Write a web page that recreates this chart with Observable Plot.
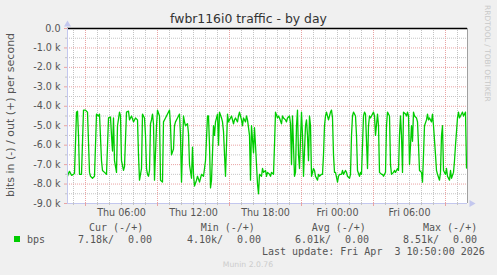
<!DOCTYPE html>
<html><head><meta charset="utf-8">
<script src="https://cdn.jsdelivr.net/npm/d3@7"></script>
<script src="https://cdn.jsdelivr.net/npm/@observablehq/plot@0.6"></script>
<style>
html,body{margin:0;padding:0;background:#f0f0f0;}
#chart{width:497px;height:275px;overflow:hidden}
svg{display:block}
</style></head><body><div id="chart"></div>
<script>
const title = "fwbr116i0 traffic - by day";
const yLabel = "bits in (-) / out (+) per second";
const watermark = "RRDTOOL / TOBI OETIKER";
const seriesName = "bps";
// 5-minute sample index (0 = Thu 01:30 UTC) and inbound bits/s in k (drawn negative)
const sampleIdx = [0,1,2,4,6,7,9,10,11,12,14,16,18,20,22,23,25,27,29,31,32,34,35,37,39,41,43,44,45,46,47,49,50,52,53,54,56,57,59,61,62,64,66,68,70,71,72,74,75,77,78,79,80,81,82,83,84,85,86,87,89,90,92,93,95,96,98,99,100,102,103,104,106,107,108,110,112,113,114,116,117,118,120,121,122,124,125,126,127,129,130,132,133,134,136,137,138,140,141,142,143,144,146,147,148,150,151,152,154,155,156,158,159,160,161,162,163,164,166,167,168,170,171,172,174,175,176,178,179,180,182,183,184,186,187,188,190,191,192,194,195,196,198,199,200,202,203,204,206,207,208,210,211,212,214,215,216,218,219,220,222,223,224,225,227,228,229,230,231,232,234,235,236,238,239,240,241,242,243,244,246,247,248,250,251,252,254,255,256,257,258,259,261,262,263,264,265,266,267,268,270,271,272,274,275,276,278,279,280,282,283,284,285,286,288,289,290,292,293,294,296,297,298,300,301,302,303,304,306,307,308,310,311,312,314,315,316,318,319,320,322,323,324,326,327,328,330,331,332,333,334,335,336,338,339,340,341,342,344,345,346,347,349,350,351,352,354,355,356,357,359,360,361,362,364,365,366,368,369,370,372,373,374,375,376,378,379,380,382,383,384,386,387,388,390,391,392,394,395,396,398,399];
const bpsInK = [7.6,7.45,7.35,7.55,7.5,7.45,4.3,4.25,5.5,7.5,7.5,4.2,4.2,4.3,7.4,7.6,7.7,7.6,4.4,4.5,4.4,6.8,7.3,7.4,7.5,4.6,4.55,5.5,6.3,4.6,6.8,7.4,5.0,4.3,4.5,6.8,7.3,7.1,4.3,4.25,4.7,4.5,4.8,4.6,4.7,6.5,7.8,7.2,4.4,4.6,5.5,7.2,7.5,7.6,7.3,4.9,4.7,4.4,4.9,7.8,5.0,4.2,4.5,7.8,7.9,4.8,4.6,4.5,4.4,4.2,5.0,6.5,6.2,5.0,4.8,4.6,4.4,5.5,7.9,4.5,4.8,5.0,4.9,5.4,7.0,7.7,6.1,7.5,8.1,7.8,7.6,7.9,7.7,7.5,7.6,7.2,6.8,4.5,4.5,6.0,8.2,7.8,5.0,5.5,4.8,4.4,6.0,4.3,4.6,4.8,5.3,7.6,6.0,4.4,4.8,4.7,4.6,4.5,4.9,4.7,4.6,4.8,4.5,4.3,4.7,5.0,4.6,4.8,4.5,4.7,5.5,7.8,5.0,6.4,5.1,6.0,8.0,8.5,7.5,7.6,7.2,7.4,7.3,7.6,7.4,7.5,7.6,7.4,7.5,6.0,4.3,4.6,4.5,4.6,4.9,4.5,4.6,4.7,4.8,4.6,4.5,4.9,7.0,4.5,7.6,7.4,5.0,4.2,6.5,7.2,4.3,5.5,7.6,5.0,4.7,5.5,6.8,4.5,5.0,7.6,7.2,7.3,7.6,7.8,7.5,7.6,7.5,7.5,6.5,5.0,4.5,4.3,4.7,4.5,4.3,4.2,4.6,6.5,7.4,7.4,7.9,7.6,7.5,7.5,7.3,7.5,7.3,7.4,7.6,7.7,7.5,5.5,4.5,4.3,4.5,5.5,7.3,7.6,7.4,7.5,4.5,4.3,4.4,7.2,5.0,4.5,4.6,4.5,4.3,4.5,5.5,4.4,5.0,7.4,7.5,7.5,7.6,7.4,5.0,4.3,4.5,7.0,7.5,7.4,7.3,7.4,7.2,7.3,5.5,4.5,5.5,7.4,4.3,4.4,4.5,4.3,4.5,7.0,5.0,5.8,4.3,4.5,4.6,4.8,6.0,7.3,7.4,7.9,6.5,5.0,4.7,4.4,4.7,4.6,4.8,4.4,5.0,6.5,7.3,7.5,7.8,7.4,5.5,5.0,7.3,7.5,7.2,7.6,7.8,7.3,7.7,7.4,6.8,6.0,4.6,4.3,4.6,4.4,4.3,4.5,4.3,7.18];
const yTickValues = [0,-1000,-2000,-3000,-4000,-5000,-6000,-7000,-8000,-9000];
const xLabelTimes = ["2026-04-02T06:00Z","2026-04-02T12:00Z","2026-04-02T18:00Z","2026-04-03T00:00Z","2026-04-03T06:00Z"];
const legendHeaders = ["Cur (-/+)","Min (-/+)","Avg (-/+)","Max (-/+)"];
const legendIn = ["7.18k/","4.10k/","6.01k/","8.51k/"];
const legendOut = ["0.00","0.00","0.00","0.00"];
const lastUpdate = "Last update: Fri Apr  3 10:50:00 2026";
const version = "Munin 2.0.76";

const STEP = 5 * 60 * 1000;
const start = new Date(Date.UTC(2026, 3, 2, 1, 30));
const end = new Date(+start + 400 * STEP);
const data = sampleIdx.map((i, k) => ({t: new Date(+start + i * STEP), v: -bpsInK[k] * 1000}));

const hours = d3.utcHour.range(start, end);
const hourMajor = hours.filter(d => d.getUTCHours() % 6 === 3);
const hourMinor = hours.filter(d => d.getUTCHours() % 6 !== 3);
const yMajor = d3.range(-1000, -9000, -1000);
const yMinor = d3.range(-500, -9000, -1000);
const xLabels = xLabelTimes.map(s => new Date(s));

const RED = "#e9a3a3", GREY = "#c4c4c4", AXIS = "#c3c7ee";
const fmtY = v => v === 0 ? "0.0" : (v / 1000).toFixed(1) + " k";

const plot = Plot.plot({
  width: 497, height: 275,
  marginLeft: 67, marginRight: 30, marginTop: 28, marginBottom: 72,
  style: {background: "transparent", fontFamily: "DejaVu Sans", fontSize: "9.6px", color: "#555", overflow: "visible"},
  x: {type: "utc", domain: [start, end], label: null},
  y: {domain: [-9000, 0], label: null},
  marks: [
    Plot.frame({fill: "white", stroke: null}),
    Plot.ruleY(yMinor, {stroke: GREY, strokeDasharray: "1,1"}),
    Plot.ruleX(hourMinor, {stroke: GREY, strokeDasharray: "1,1"}),
    Plot.ruleY(yMajor, {stroke: RED, strokeDasharray: "1,1"}),
    Plot.ruleX(hourMajor, {stroke: RED, strokeDasharray: "1,1"}),
    Plot.line(data, {x: "t", y: "v", stroke: "#00cc00", strokeWidth: 1.3}),
    Plot.ruleY([0], {stroke: "#000", strokeWidth: 1.4}),
    Plot.ruleX([end], {stroke: "#a0a0a0"}),
    Plot.ruleY([-9000], {stroke: AXIS, x1: start, x2: end}),
    Plot.ruleX([start], {stroke: AXIS, y1: -9000, y2: 0}),
    Plot.dot([0], {x: () => start, y: () => 0, dy: -4, symbol: "triangle", r: 2.6, fill: AXIS, stroke: null}),
    Plot.dot([0], {x: () => end, y: () => -9000, dx: 4, symbol: "triangle", rotate: 90, r: 2.6, fill: AXIS, stroke: null}),
    Plot.axisY({ticks: yMinor, tickSize: 2, tickFormat: () => "", stroke: GREY, label: null}),
    Plot.axisY({ticks: yTickValues, tickSize: 3, tickPadding: 4, tickFormat: fmtY, stroke: RED, fill: "#555", label: null}),
    Plot.axisX({ticks: hourMinor, tickSize: 2, tickFormat: () => "", stroke: GREY, label: null}),
    Plot.axisX({ticks: hourMajor, tickSize: 3, tickFormat: () => "", stroke: RED, label: null}),
    Plot.axisX({ticks: xLabels, tickSize: 0, tickPadding: 6, tickFormat: d3.utcFormat("%a %H:%M"), fill: "#555", label: null})
  ]
});
document.getElementById("chart").appendChild(plot);

const svg = d3.select(plot);
svg.append("text").attr("x", 248.5).attr("y", 22.5).attr("text-anchor", "middle")
  .attr("font-family", "DejaVu Sans").attr("font-size", 12.4).attr("fill", "#333").text(title);
svg.append("text").attr("transform", "translate(14,115) rotate(-90)").attr("text-anchor", "middle")
  .attr("font-family", "DejaVu Sans").attr("font-size", 11).attr("fill", "#555").text(yLabel);
svg.append("text").attr("transform", "translate(485,5) rotate(90)").attr("text-anchor", "start")
  .attr("font-family", "DejaVu Sans").attr("font-size", 7.5).attr("fill", "#c8c8c8").text(watermark);

const mono = (x, y, s, fill = "#555") => svg.append("text").attr("x", x).attr("y", y)
  .attr("text-anchor", "start")
  .attr("font-family", "DejaVu Sans Mono").attr("font-size", 10).attr("fill", fill)
  .style("white-space", "pre").text(s);
const hx = [89, 200.7, 311.7, 423];
const ix = [78, 187, 295, 403];
const ox = [128, 237, 345, 453];
legendHeaders.forEach((h, i) => mono(hx[i], 231, h));
svg.append("rect").attr("x", 14).attr("y", 236).attr("width", 6).attr("height", 6).attr("fill", "#00cc00");
mono(27, 243, seriesName);
legendIn.forEach((s, i) => mono(ix[i], 243, s));
legendOut.forEach((s, i) => mono(ox[i], 243, s));
mono(262, 254.5, lastUpdate);
svg.append("text").attr("x", 248).attr("y", 267).attr("text-anchor", "middle")
  .attr("font-family", "DejaVu Sans").attr("font-size", 7.7).attr("fill", "#cccccc").text(version);
</script></body></html>
